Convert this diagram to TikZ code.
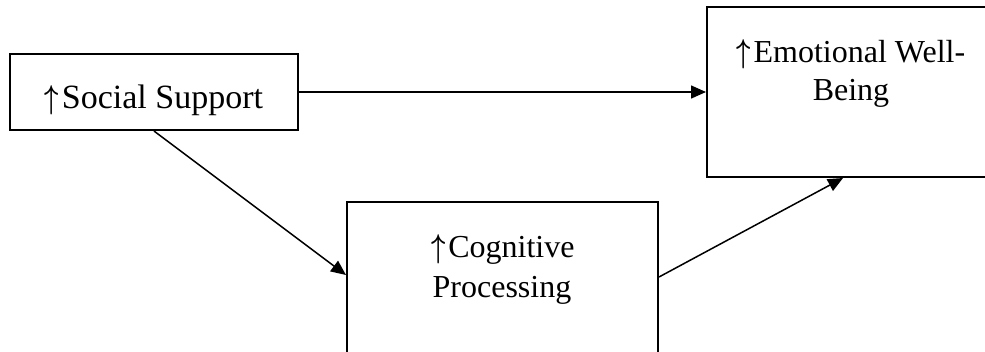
\documentclass[tikz,border=0pt]{standalone}
\usepackage{fontspec}
\usepackage{graphicx}
\setmainfont{Liberation Serif}
\usetikzlibrary{arrows.meta,calc}
\newcommand\uparr{\scalebox{1}[1.33]{\boldmath$\uparrow$}\kern0.08em}
\begin{document}
\begin{tikzpicture}[x=1pt,y=-1pt,
  box/.style={draw,line width=2pt,inner sep=0pt,anchor=north west},
  lbl/.style={anchor=base,inner sep=0pt,font=\fontsize{32}{38}\selectfont},
  conn/.style={line width=1.5pt,-{Triangle[length=15pt,width=13pt]}}]
\useasboundingbox (0,0) rectangle (985,351);
\clip (0,0) rectangle (985,351);
\node[box,minimum width=288pt,minimum height=76pt] (ss) at (9,53) {};
\node[box,minimum width=290pt,minimum height=170pt] (ewb) at (706,6) {};
\node[box,minimum width=311pt,minimum height=200pt] (cp) at (346,201) {};
\node[lbl,font=\fontsize{34}{40}\selectfont] (sst) at (154,108) {\uparr Social Support};
\node[lbl] (ewt1) at (851,62) {\uparr Emotional Well-};
\node[lbl] (ewt2) at (851,100) {Being};
\node[lbl] (cpt1) at (503,257) {\uparr Cognitive};
\node[lbl] (cpt2) at (502,297) {Processing};
\draw[conn] (ss.east) -- (ewb.west);
\draw[conn] (ss.south) -- ($(cp.north west)+(0,74)$);
\draw[conn] ($(cp.north east)+(0,76)$) -- ($(ewb.south west)+(137,0)$);
\end{tikzpicture}
\end{document}
